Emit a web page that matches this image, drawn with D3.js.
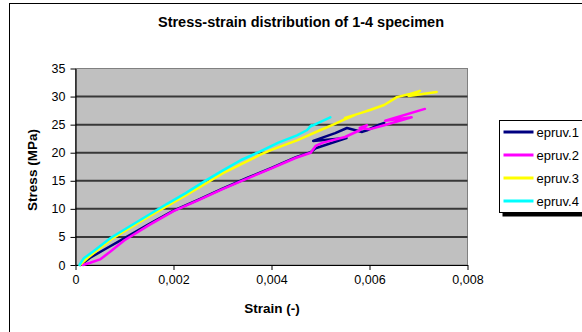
<!DOCTYPE html>
<html>
<head>
<meta charset="utf-8">
<script src="https://cdn.jsdelivr.net/npm/d3@7"></script>
<style>
  html, body { margin: 0; padding: 0; background: #fff; }
  svg { display: block; font-family: "Liberation Sans", Arial, sans-serif; }
</style>
</head>
<body>
<svg id="chart" width="582" height="332"></svg>
<script>
// Strain (-) / stress (MPa) readings for each specimen, in recording order
const strain1 = [0.0001, 0.0003, 0.0006, 0.001, 0.0015, 0.002, 0.0025, 0.003, 0.0035, 0.004, 0.0045, 0.0048, 0.0049, 0.00553, 0.00485, 0.0053, 0.00554, 0.00585, 0.00595, 0.0062, 0.0063];
const stress1 = [0, 1.3, 2.8, 4.8, 7.3, 9.7, 11.6, 13.6, 15.5, 17.3, 19.2, 20.1, 20.8, 22.6, 22.1, 23.5, 24.4, 23.7, 24.0, 25.0, 25.3];

const strain2 = [0.00015, 0.0003, 0.0005, 0.0007, 0.001, 0.0015, 0.002, 0.0025, 0.003, 0.0035, 0.004, 0.0045, 0.0048, 0.0049, 0.00505, 0.0055, 0.0058, 0.00595, 0.0058, 0.00601, 0.0063, 0.00686, 0.00632, 0.00713];
const stress2 = [0, 0.4, 1.0, 2.3, 4.4, 7.1, 9.6, 11.5, 13.5, 15.4, 17.2, 19.1, 20.0, 21.2, 21.8, 22.8, 24.0, 24.9, 24.4, 24.2, 24.9, 26.3, 25.7, 27.8];

const strain3 = [0.00009, 0.00024, 0.00073, 0.00149, 0.00225, 0.003, 0.00376, 0.004, 0.00452, 0.00499, 0.00526, 0.00546, 0.0057, 0.0055, 0.0058, 0.00601, 0.0063, 0.00656, 0.0068, 0.00703, 0.0068, 0.00737];
const stress3 = [0, 1.2, 4.6, 8.6, 12.4, 16.3, 19.6, 20.5, 22.2, 24.0, 25.0, 25.8, 26.7, 26.2, 27.0, 27.6, 28.5, 29.9, 30.4, 31.0, 30.1, 30.8];

const strain4 = [0.00008, 0.00017, 0.00036, 0.00073, 0.00111, 0.00149, 0.00187, 0.00225, 0.00263, 0.003, 0.00338, 0.00376, 0.00414, 0.00452, 0.00472, 0.00482, 0.00478, 0.0052];
const stress4 = [0, 1.2, 2.4, 4.9, 6.9, 8.9, 10.9, 12.8, 14.9, 16.8, 18.7, 20.2, 21.8, 23.1, 24.0, 24.9, 24.6, 26.3];

const seriesNames = ["epruv.1", "epruv.2", "epruv.3", "epruv.4"];
const seriesColors = ["#000080", "#ff00ff", "#ffff00", "#00ffff"];

const xTicks = [0, 0.002, 0.004, 0.006, 0.008];
const yTicks = [0, 5, 10, 15, 20, 25, 30, 35];

const titleText = "Stress-strain distribution of 1-4 specimen";
const xTitle = "Strain (-)";
const yTitle = "Stress (MPa)";

const series = [
  { name: seriesNames[0], color: seriesColors[0], xs: strain1, ys: stress1 },
  { name: seriesNames[1], color: seriesColors[1], xs: strain2, ys: stress2 },
  { name: seriesNames[2], color: seriesColors[2], xs: strain3, ys: stress3 },
  { name: seriesNames[3], color: seriesColors[3], xs: strain4, ys: stress4 }
];

const svg = d3.select("#chart");

// chart frame
svg.append("rect")
  .attr("x", 9.5).attr("y", 3.5)
  .attr("width", 600).attr("height", 340)
  .attr("fill", "#fff").attr("stroke", "#000").attr("stroke-width", 1);

const plot = { left: 75.5, right: 467.5, top: 68.5, bottom: 265 };

const x = d3.scaleLinear().domain([0, 0.008]).range([plot.left, plot.right]);
const y = d3.scaleLinear().domain([0, 35]).range([plot.bottom, plot.top]);

// plot area
svg.append("rect")
  .attr("x", plot.left).attr("y", plot.top)
  .attr("width", plot.right - plot.left).attr("height", plot.bottom - plot.top)
  .attr("fill", "#c0c0c0").attr("stroke", "#808080").attr("stroke-width", 1);

// horizontal gridlines
svg.append("g")
  .selectAll("line")
  .data(yTicks.filter(d => d > 0 && d < 35))
  .join("line")
  .attr("x1", plot.left).attr("x2", plot.right)
  .attr("y1", d => y(d)).attr("y2", d => y(d))
  .attr("stroke", "#383838").attr("stroke-width", 2);

// axes
const fmt = d => d === 0 ? "0" : d3.format(".3f")(d).replace(".", ",");

const xAxis = svg.append("g")
  .attr("transform", `translate(0,${plot.bottom})`)
  .call(d3.axisBottom(x).tickValues(xTicks).tickFormat(fmt).tickSizeInner(5).tickSizeOuter(0).tickPadding(5));
const yAxis = svg.append("g")
  .attr("transform", `translate(${plot.left},0)`)
  .call(d3.axisLeft(y).tickValues(yTicks).tickSizeInner(5).tickSizeOuter(0).tickPadding(5));

[xAxis, yAxis].forEach(g => {
  g.select(".domain").attr("stroke", "#000").attr("stroke-width", 1.2);
  g.selectAll(".tick line").attr("stroke", "#000");
  g.selectAll(".tick text")
    .attr("fill", "#000")
    .style("font-family", "'Liberation Sans', Arial, sans-serif")
    .style("font-size", "12.5px");
});

// series lines
const line = d3.line()
  .x(d => x(d[0]))
  .y(d => y(d[1]))
  .curve(d3.curveLinear);

svg.append("g")
  .selectAll("path")
  .data(series)
  .join("path")
  .attr("d", s => line(s.xs.map((v, i) => [v, s.ys[i]])))
  .attr("fill", "none")
  .attr("stroke", s => s.color)
  .attr("stroke-width", 2.5)
  .attr("stroke-linejoin", "round")
  .attr("stroke-linecap", "round");

// titles
svg.append("text")
  .attr("x", 301).attr("y", 27)
  .attr("text-anchor", "middle")
  .style("font-weight", "bold").style("font-size", "14.5px")
  .text(titleText);

svg.append("text")
  .attr("x", 272).attr("y", 313)
  .attr("text-anchor", "middle")
  .style("font-weight", "bold").style("font-size", "13.5px")
  .text(xTitle);

svg.append("text")
  .attr("transform", "translate(37,170) rotate(-90)")
  .attr("text-anchor", "middle")
  .style("font-weight", "bold").style("font-size", "13.5px")
  .text(yTitle);

// legend
const legend = svg.append("g").attr("transform", "translate(499.5,120.5)");
legend.append("rect")
  .attr("x", 3).attr("y", 92)
  .attr("width", 120).attr("height", 4)
  .attr("fill", "#000");
legend.append("rect")
  .attr("x", 0).attr("y", 0)
  .attr("width", 120).attr("height", 92)
  .attr("fill", "#fff").attr("stroke", "#000").attr("stroke-width", 1);

const items = legend.selectAll("g.item")
  .data(series)
  .join("g")
  .attr("class", "item")
  .attr("transform", (d, i) => `translate(0,${11.5 + i * 23})`);
items.append("line")
  .attr("x1", 4).attr("x2", 34)
  .attr("y1", 0).attr("y2", 0)
  .attr("stroke", d => d.color).attr("stroke-width", 3);
items.append("text")
  .attr("x", 37).attr("y", 4.5)
  .style("font-size", "13px")
  .text(d => d.name);
</script>
</body>
</html>
